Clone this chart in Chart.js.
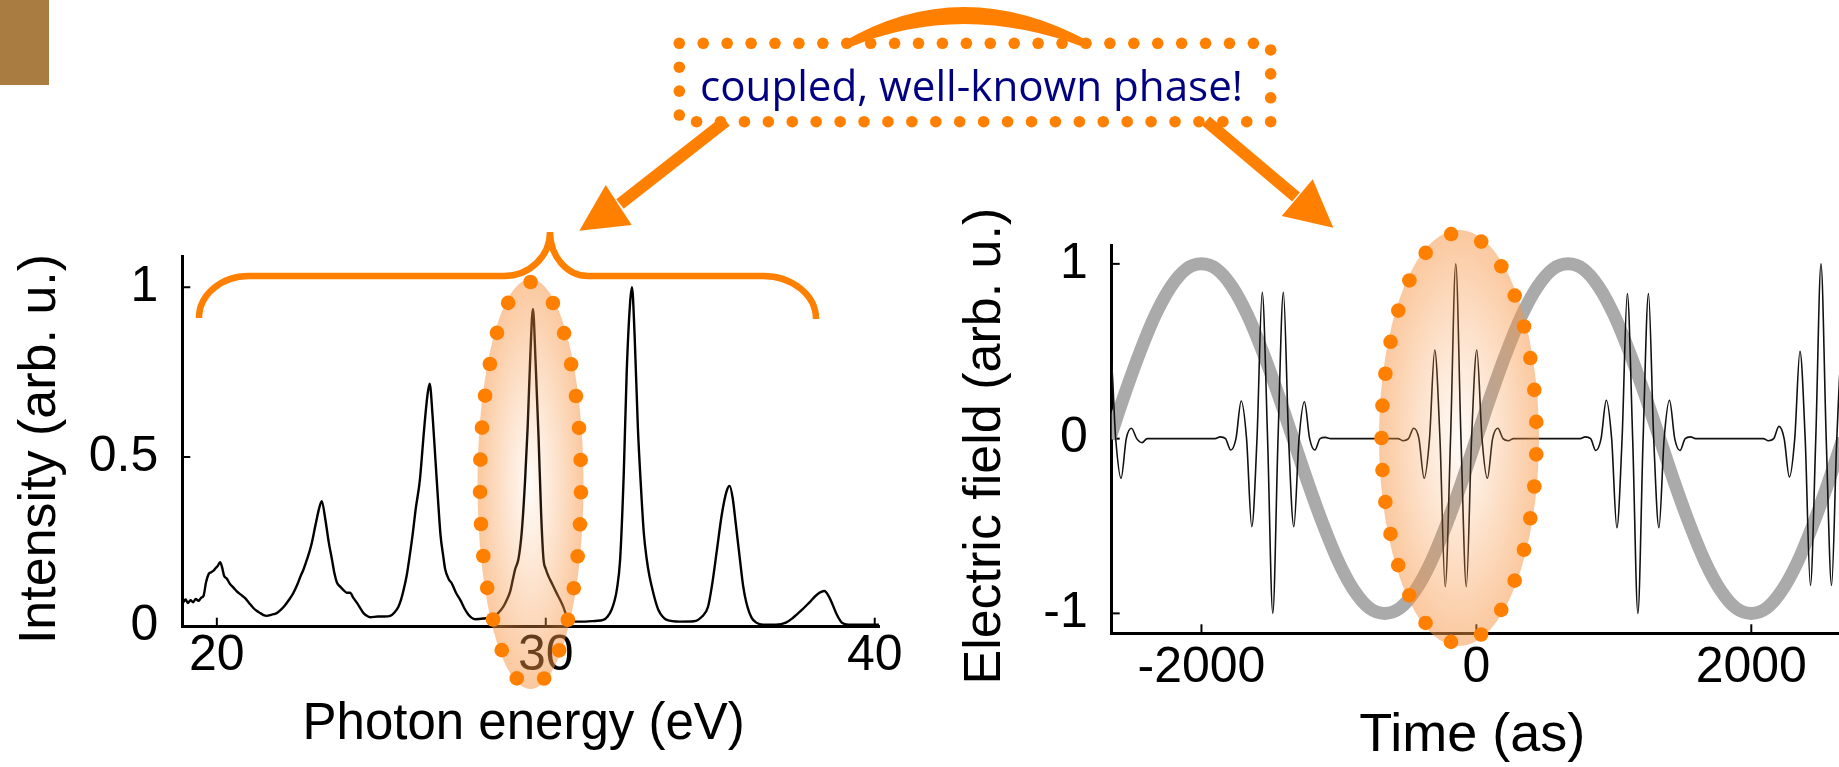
<!DOCTYPE html>
<html><head><meta charset="utf-8">
<script src="https://cdn.jsdelivr.net/npm/chart.js@4.4.0/dist/chart.umd.min.js"></script>
<style>
html,body{margin:0;padding:0;background:#fff;overflow:hidden;width:1839px;height:767px;}
canvas{position:absolute;left:0;top:0;width:1839px;height:767px;}
#note{position:absolute;left:700px;top:64.4px;font-family:'Open Sans',sans-serif;font-size:42px;line-height:42px;color:#000080;white-space:nowrap;transform-origin:0 0;}
</style></head><body>
<canvas id="spec" width="1839" height="767"></canvas>
<canvas id="field" width="1839" height="767"></canvas>
<canvas id="deco" width="1839" height="767"></canvas>
<div id="note">coupled, well-known phase!</div>
<script>
// ---------- Left panel: harmonic spectrum ----------
const photonEnergy = [
 18.98,19.05,19.12,19.2,19.28,19.36,19.44,19.52,19.6,19.67,
 19.75,19.82,19.9,19.96,20.02,20.1,20.16,20.22,20.3,20.4,
 20.5,20.6,20.72,20.86,20.98,21.11,21.22,21.32,21.42,21.52,
 21.65,21.82,21.95,22.08,22.2,22.33,22.45,22.53,22.64,22.74,
 22.87,23.0,23.1,23.19,23.3,23.4,23.5,23.58,23.65,23.75,
 23.85,23.95,24.05,24.15,24.26,24.36,24.46,24.56,24.66,24.9,
 25.1,25.27,25.4,25.52,25.6,25.67,25.77,25.85,25.95,26.05,
 26.17,26.3,26.4,26.47,26.56,26.64,26.72,26.8,26.88,26.94,
 27.05,27.14,27.27,27.4,27.52,27.65,27.75,27.85,28.1,28.41,
 28.55,28.71,28.82,28.92,29.0,29.07,29.17,29.27,29.37,29.45,
 29.53,29.61,29.69,29.78,29.86,29.93,30.0,30.08,30.2,30.33,
 30.43,30.53,30.62,30.69,30.9,31.2,31.5,31.75,31.88,32.0,
 32.1,32.16,32.26,32.37,32.46,32.56,32.62,32.7,32.8,32.9,
 32.98,33.07,33.15,33.22,33.32,33.42,33.55,33.68,34.08,34.5,
 34.75,34.93,35.05,35.2,35.35,35.5,35.59,35.68,35.78,35.9,
 36.0,36.1,36.26,36.4,36.6,37.0,37.3,37.5,37.76,38.0,
 38.25,38.47,38.6,38.72,38.85,39.0,39.2,39.6,40.13];
const intensity = [
 .072,.08,.07,.078,.072,.082,.076,.085,.092,.13,
 .155,.16,.165,.172,.178,.19,.175,.15,.142,.126,
 .116,.105,.095,.084,.07,.055,.046,.04,.034,.032,
 .035,.04,.05,.064,.08,.1,.125,.145,.17,.198,
 .24,.3,.345,.37,.315,.25,.198,.155,.13,.118,
 .108,.1,.1,.085,.07,.055,.04,.032,.028,.03,
 .03,.032,.042,.059,.08,.105,.15,.2,.27,.35,
 .43,.58,.68,.716,.62,.5,.38,.27,.21,.17,
 .14,.128,.1,.079,.055,.035,.026,.022,.024,.03,
 .04,.059,.08,.105,.14,.17,.2,.28,.43,.59,
 .8,.936,.78,.56,.33,.2,.17,.149,.125,.099,
 .08,.059,.035,.02,.015,.015,.017,.02,.03,.05,
 .08,.109,.198,.45,.75,.95,1.0,.86,.586,.4,
 .276,.198,.15,.119,.08,.05,.03,.02,.015,.016,
 .03,.058,.12,.224,.33,.4,.415,.38,.3,.2,
 .12,.07,.026,.012,.006,.006,.012,.025,.047,.07,
 .095,.105,.09,.065,.035,.012,.006,.006,.006];
const specTicksX = [20, 30, 40];
const specTicksY = [0, 0.5, 1];

// ---------- Right panel: driving field and attosecond pulse train ----------
const laserTime = [-2778,-2667,-2556,-2445,-2334,-2222,-2111,-2000,-1889,-1778,-1667,-1556,-1445,-1334,-1222,-1111,-1000,-889,-778,-667,-556,-445,-333,-222,-111,0,111,222,333,445,556,667,778,889,1000,1111,1222,1334,1445,1556,1667,1778,1889,2000,2111,2222,2334,2445,2556,2667,2778];
const laserField = [-0.26,0,0.26,0.5,0.71,0.87,0.97,1,0.97,0.87,0.71,0.5,0.26,0,-0.26,-0.5,-0.71,-0.87,-0.97,-1,-0.97,-0.87,-0.71,-0.5,-0.26,0,0.26,0.5,0.71,0.87,0.97,1,0.97,0.87,0.71,0.5,0.26,0,-0.26,-0.5,-0.71,-0.87,-0.97,-1,-0.97,-0.87,-0.71,-0.5,-0.26,0,0.26];
const pulseTime = [
 -3275,-3235,-3198,-3159,-3121,-3083,-3045,-3006,-2968,-2930,-2892,-2853,-2815,-2777,-2738,-2700,-2662,-2624,-2585,-2547,-2509,-2471,-2432,-2395,-2355,
 -1941,-1901,-1864,-1825,-1787,-1749,-1711,-1672,-1634,-1596,-1558,-1519,-1481,-1443,-1404,-1366,-1328,-1290,-1251,-1213,-1175,-1137,-1098,-1061,-1021,
 -610,-570,-533,-494,-456,-418,-380,-341,-303,-265,-227,-188,-150,-112,-73,-35,3,41,80,118,156,194,233,270,310,
 715,755,792,831,869,907,945,984,1022,1060,1098,1137,1175,1213,1252,1290,1328,1366,1405,1443,1481,1519,1558,1595,1635,
 2047,2087,2124,2163,2201,2239,2277,2316,2354,2392,2430,2469,2507,2545,2584,2622,2660,2698,2737,2775,2813,2851,2890,2927,2967];
const pulseField = [
 0,0,-.012,0,.06,0,-.225,0,.5,0,-.84,0,1,0,-.84,0,.5,0,-.227,0,.059,0,-.023,0,0,
 0,0,.01,0,-.065,0,.215,0,-.504,0,.837,0,-1,0,.837,0,-.504,0,.211,0,-.065,0,.007,0,0,
 0,0,-.012,0,.059,0,-.227,0,.507,0,-.847,0,1,0,-.847,0,.507,0,-.227,0,.059,0,-.012,0,0,
 0,0,.01,0,-.068,0,.22,0,-.51,0,.83,0,-1,0,.83,0,-.51,0,.22,0,-.068,0,.01,0,0,
 0,0,-.012,0,.07,0,-.22,0,.5,0,-.84,0,1,0,-.84,0,.5,0,-.22,0,.07,0,-.012,0,0];
const fieldTicksX = [-2000, 0, 2000];
const fieldTicksY = [-1, 0, 1];

const FONT = "'Liberation Sans', Arial, Helvetica, sans-serif";
Chart.defaults.font.family = FONT;
Chart.defaults.color = '#000';

const innerTicks = {
  id: 'innerTicks',
  beforeDatasetsDraw(chart) {
    const {ctx, chartArea: a, scales} = chart;
    ctx.save(); ctx.strokeStyle = '#000'; ctx.lineWidth = 2;
    scales.x.ticks.forEach(t => { const p = scales.x.getPixelForValue(t.value);
      ctx.beginPath(); ctx.moveTo(p, a.bottom); ctx.lineTo(p, a.bottom - 9); ctx.stroke(); });
    scales.y.ticks.forEach(t => { const p = scales.y.getPixelForValue(t.value);
      ctx.beginPath(); ctx.moveTo(a.left, p); ctx.lineTo(a.left + 8, p); ctx.stroke(); });
    ctx.restore();
  }
};
const axisTitles = {
  id: 'axisTitles',
  afterDraw(chart, args, o) {
    const a = chart.chartArea, ctx = chart.ctx, sc = chart.options.scales;
    ctx.save(); ctx.fillStyle = '#000'; ctx.textAlign = 'center'; ctx.textBaseline = 'alphabetic';
    ctx.font = o.xSize + 'px ' + FONT;
    ctx.fillText(sc.x.title.text, (a.left + a.right) / 2 + o.xShift, a.bottom + o.xBase);
    ctx.font = o.ySize + 'px ' + FONT;
    ctx.translate(a.left - o.yBase, (a.top + a.bottom) / 2 + o.yShift);
    ctx.rotate(-Math.PI / 2);
    ctx.fillText(sc.y.title.text, 0, 0);
    ctx.restore();
  }
};
function axis(min, max, ticks, fit, pad, title) {
  return {
    type: 'linear', min, max,
    afterBuildTicks: s => { s.ticks = ticks.map(v => ({value: v})); },
    afterFit: fit,
    grid: {display: false, drawTicks: false},
    border: {display: true, color: '#000', width: 3},
    ticks: {font: {size: 50}, color: '#000', padding: pad, maxRotation: 0, autoSkip: false, callback: v => String(v)},
    title: {display: false, text: title}
  };
}

new Chart(document.getElementById('spec'), {
  type: 'line',
  data: {datasets: [{
    data: photonEnergy.map((e, i) => ({x: e, y: intensity[i]})),
    borderColor: '#000', borderWidth: 2.4, pointRadius: 0, fill: false, cubicInterpolationMode: 'monotone'
  }]},
  options: {
    responsive: false, animation: false, events: [],
    layout: {padding: {left: 0, top: 256.7, right: 960, bottom: 0}},
    plugins: {legend: {display: false}, tooltip: {enabled: false},
      axisTitles: {xSize: 51, xShift: -7, xBase: 112, ySize: 52, yBase: 127.3, yShift: 7.3}},
    scales: {
      x: axis(18.95, 40.13, specTicksX, s => { s.height = 140.3; }, 0, 'Photon energy (eV)'),
      y: axis(0, 1.09, specTicksY, s => { s.width = 182.3; }, 24, 'Intensity (arb. u.)')
    }
  },
  plugins: [innerTicks, axisTitles]
});

new Chart(document.getElementById('field'), {
  type: 'line',
  data: {datasets: [
    {data: pulseTime.map((t, i) => ({x: t, y: pulseField[i]})), borderColor: '#111', borderWidth: 1.6,
     pointRadius: 0, fill: false, cubicInterpolationMode: 'monotone'},
    {data: laserTime.map((t, i) => ({x: t, y: laserField[i]})), borderColor: '#aaaaaa', borderWidth: 13,
     pointRadius: 0, fill: false, cubicInterpolationMode: 'monotone'}
  ]},
  options: {
    responsive: false, animation: false, events: [],
    layout: {padding: {left: 900, top: 245, right: 0, bottom: 0}},
    plugins: {legend: {display: false}, tooltip: {enabled: false},
      axisTitles: {xSize: 54, xShift: -3, xBase: 117.7, ySize: 52, yBase: 111.7, yShift: 7}},
    scales: {
      x: axis(-2653, 2638, fieldTicksX, s => { s.height = 133.7; }, 5, 'Time (as)'),
      y: axis(-1.114, 1.108, fieldTicksY, s => { s.width = 211.7; }, 24, 'Electric field (arb. u.)')
    }
  },
  plugins: [innerTicks, axisTitles]
});

// ---------- decorations (slide annotations) ----------
const d = document.getElementById('deco').getContext('2d');
const OR = '#FF8000';
d.fillStyle = '#A97C41'; d.fillRect(0, 0, 49, 85);

// brace above the spectrum
d.strokeStyle = OR; d.lineWidth = 6.5; d.lineCap = 'butt';
d.beginPath();
d.ellipse(249, 318, 50, 42, 0, Math.PI, 1.5 * Math.PI);
d.lineTo(504, 276);
d.ellipse(504, 232, 46, 44, 0, 0.5 * Math.PI, 0, true);
d.ellipse(588, 232, 38, 44, 0, Math.PI, 0.5 * Math.PI, true);
d.lineTo(763, 276);
d.ellipse(763, 319, 53, 43, 0, -0.5 * Math.PI, 0);
d.stroke();

// arrows
function arrow(x0, y0, bx, by, tip, w1, w2) {
  d.strokeStyle = OR; d.fillStyle = OR; d.lineWidth = 12;
  d.beginPath(); d.moveTo(x0, y0); d.lineTo(bx, by); d.stroke();
  d.beginPath(); d.moveTo(tip[0], tip[1]); d.lineTo(w1[0], w1[1]); d.lineTo(w2[0], w2[1]); d.closePath(); d.fill();
}
arrow(726, 121, 620, 204, [579.3, 230.7], [605.7, 185], [631.7, 225]);
arrow(1206, 121, 1296, 197, [1333.3, 227.7], [1312.7, 179.3], [1281.7, 216]);

// curved band on top of the box
d.fillStyle = OR;
d.beginPath();
d.moveTo(843, 42); d.quadraticCurveTo(962, -28, 1090, 42);
d.lineTo(1086, 48); d.quadraticCurveTo(962, 0, 848, 48);
d.closePath(); d.fill();

// dotted box
function rectDots(x0, y0, x1, y1, n, r) {
  const w = x1 - x0, h = y1 - y0, P = 2 * (w + h), step = P / n;
  for (let k = 0; k < n; k++) {
    let s = k * step, x, y;
    if (s < w) { x = x0 + s; y = y0; }
    else if ((s -= w) < h) { x = x1; y = y0 + s; }
    else if ((s -= h) < w) { x = x1 - s; y = y1; }
    else { s -= w; x = x0; y = y1 - s; }
    d.beginPath(); d.arc(x, y, r, 0, 2 * Math.PI); d.fill();
  }
}
rectDots(679.3, 43.3, 1270.7, 121.7, 56, 5.8);

// glowing dotted ellipses
function glow(cx, cy, rx, ry) {
  d.save(); d.translate(cx, cy); d.scale(rx, ry);
  const g = d.createRadialGradient(0, 0, 0, 0, 0, 1);
  g.addColorStop(0, 'rgba(247,150,70,0.03)');
  g.addColorStop(0.5, 'rgba(247,150,70,0.27)');
  g.addColorStop(1, 'rgba(247,150,70,0.52)');
  d.fillStyle = g; d.beginPath(); d.arc(0, 0, 1, 0, 2 * Math.PI); d.fill(); d.restore();
}
function ellipseDots(cx, cy, rx, ry, n, a0, half, r) {
  const M = 4000, pts = [], cum = []; let len = 0, prev = null;
  for (let i = 0; i <= M; i++) {
    const a = a0 + 2 * Math.PI * i / M, p = [cx + rx * Math.cos(a), cy + ry * Math.sin(a)];
    if (prev) len += Math.hypot(p[0] - prev[0], p[1] - prev[1]);
    cum.push(len); pts.push(p); prev = p;
  }
  const step = len / n; let j = 0;
  d.fillStyle = OR;
  for (let k = 0; k < n; k++) {
    const target = (k + (half ? 0.5 : 0)) * step;
    while (j < M && cum[j] < target) j++;
    d.beginPath(); d.arc(pts[j][0], pts[j][1], r, 0, 2 * Math.PI); d.fill();
  }
}
glow(530.5, 484, 53, 205);
ellipseDots(530.5, 484, 50.5, 202, 27, Math.PI / 2, true, 7.3);
glow(1459, 438, 80, 208);
ellipseDots(1459, 438, 77.5, 205, 29, Math.PI, false, 7.3);

// fit the annotation text width
const note = document.getElementById('note');
const wNote = note.getBoundingClientRect().width;
if (wNote > 0) { const k = 543 / wNote; if (k > 0.8 && k < 1.25) note.style.transform = 'scaleX(' + k + ')'; }
</script>
</body></html>
